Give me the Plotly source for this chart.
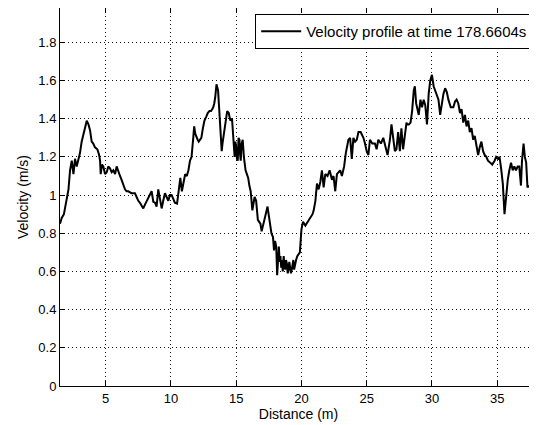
import plotly.graph_objects as go

distance = [
    1.50, 1.63, 1.80, 2.02, 2.15, 2.27, 2.40, 2.53, 2.65, 2.78, 2.90, 3.03, 3.16, 3.27, 3.37, 3.47, 3.55, 3.68, 3.80, 3.93,
    4.05, 4.18, 4.36, 4.50, 4.57, 4.62, 4.72, 4.82, 4.95, 5.08, 5.20, 5.33, 5.46, 5.59, 5.72, 5.84, 5.97, 6.10, 6.22, 6.35,
    6.48, 6.60, 6.73, 6.98, 7.24, 7.37, 7.50, 7.63, 7.76, 7.88, 8.01, 8.14, 8.27, 8.40, 8.52, 8.65, 8.78, 8.90, 9.03, 9.16,
    9.29, 9.41, 9.54, 9.67, 9.80, 9.92, 10.05, 10.18, 10.30, 10.47, 10.60, 10.72, 10.84, 10.97, 11.09, 11.22, 11.34, 11.46,
    11.58, 11.71, 11.78, 11.87, 11.96, 12.05, 12.13, 12.23, 12.33, 12.45, 12.57, 12.70, 12.82, 12.95, 13.07, 13.16, 13.24,
    13.32, 13.39, 13.49, 13.61, 13.69, 13.75, 13.81, 13.89, 13.95, 14.01, 14.10, 14.18, 14.25, 14.31, 14.43, 14.55, 14.68,
    14.74, 14.80, 14.88, 14.94, 15.00, 15.06, 15.12, 15.18, 15.25, 15.30, 15.35, 15.42, 15.50, 15.59, 15.65, 15.72, 15.82,
    15.92, 16.01, 16.11, 16.24, 16.32, 16.41, 16.53, 16.60, 16.66, 16.76, 16.86, 16.95, 17.03, 17.12, 17.20, 17.30, 17.40,
    17.48, 17.57, 17.70, 17.82, 17.90, 17.98, 18.07, 18.14, 18.20, 18.27, 18.33, 18.39, 18.45, 18.51, 18.57, 18.64, 18.70,
    18.76, 18.82, 18.89, 18.95, 19.01, 19.07, 19.13, 19.20, 19.26, 19.32, 19.38, 19.44, 19.50, 19.59, 19.68, 19.78, 19.88,
    20.00, 20.12, 20.30, 20.50, 20.70, 20.85, 20.94, 21.07, 21.19, 21.32, 21.45, 21.57, 21.70, 21.83, 22.00, 22.16, 22.34,
    22.46, 22.59, 22.72, 22.85, 22.97, 23.10, 23.27, 23.40, 23.50, 23.60, 23.73, 23.86, 23.98, 24.11, 24.24, 24.37, 24.54,
    24.75, 24.87, 25.00, 25.13, 25.25, 25.43, 25.63, 25.76, 25.89, 26.09, 26.27, 26.45, 26.60, 26.78, 26.90, 27.03, 27.16,
    27.28, 27.41, 27.54, 27.66, 27.79, 27.92, 28.05, 28.10, 28.23, 28.36, 28.48, 28.61, 28.69, 28.79, 28.91, 28.99, 29.12,
    29.24, 29.37, 29.49, 29.62, 29.75, 29.87, 30.00, 30.13, 30.25, 30.38, 30.50, 30.63, 30.76, 30.88, 31.01, 31.14, 31.26,
    31.44, 31.64, 31.77, 31.89, 32.02, 32.15, 32.27, 32.40, 32.53, 32.65, 32.78, 32.90, 33.03, 33.16, 33.28, 33.41, 33.54,
    33.66, 33.79, 33.92, 34.04, 34.17, 34.29, 34.47, 34.62, 34.80, 34.92, 35.05, 35.18, 35.30, 35.43, 35.56, 35.68, 35.81,
    35.93, 36.06, 36.19, 36.31, 36.44, 36.57, 36.69, 36.82, 36.90, 37.02, 37.12, 37.22, 37.32, 37.45,
]

velocity = [
    0.85, 0.88, 0.90, 0.99, 1.03, 1.13, 1.18, 1.11, 1.19, 1.15, 1.18, 1.22, 1.28, 1.31, 1.34, 1.37, 1.39, 1.37, 1.34, 1.28,
    1.27, 1.25, 1.24, 1.21, 1.18, 1.11, 1.16, 1.15, 1.11, 1.12, 1.15, 1.14, 1.12, 1.13, 1.11, 1.15, 1.12, 1.10, 1.08, 1.05,
    1.03, 1.02, 1.02, 1.01, 1.01, 0.99, 0.97, 0.96, 0.94, 0.93, 0.95, 0.97, 0.99, 1.01, 1.02, 0.965, 0.96, 0.94, 1.03, 0.98,
    0.93, 0.97, 1.01, 0.99, 0.97, 1.00, 1.00, 0.98, 0.96, 0.955, 1.04, 1.09, 1.02, 1.08, 1.11, 1.10, 1.13, 1.18,
    1.20, 1.30, 1.36, 1.32, 1.30, 1.29, 1.28, 1.29, 1.30, 1.35, 1.39, 1.41, 1.43, 1.44, 1.44, 1.45, 1.46,
    1.48, 1.51, 1.58, 1.55, 1.46, 1.40, 1.32, 1.23, 1.27, 1.30, 1.33, 1.36, 1.41, 1.44, 1.43, 1.39, 1.40,
    1.35, 1.30, 1.20, 1.28, 1.25, 1.19, 1.18, 1.30, 1.29, 1.21, 1.18, 1.27, 1.29, 1.20, 1.16, 1.13, 1.11,
    1.09, 1.05, 1.02, 0.92, 0.97, 0.99, 0.97, 0.92, 0.87, 0.86, 0.85, 0.81, 0.83, 0.86, 0.88, 0.91, 0.94,
    0.90, 0.87, 0.80, 0.78, 0.71, 0.76, 0.73, 0.58, 0.69, 0.73, 0.65, 0.68, 0.62, 0.66, 0.60, 0.68, 0.63,
    0.61, 0.66, 0.64, 0.59, 0.61, 0.65, 0.62, 0.59, 0.61, 0.64, 0.66, 0.61, 0.64, 0.66, 0.68, 0.69, 0.70,
    0.82, 0.86, 0.84, 0.86, 0.88, 0.90, 0.92, 0.97, 1.06, 1.03, 1.07, 1.13, 1.04, 1.11, 1.10, 1.13, 1.08,
    1.10, 1.02, 1.11, 1.12, 1.13, 1.10, 1.15, 1.22, 1.26, 1.29, 1.30, 1.19, 1.30, 1.28, 1.29, 1.33, 1.33,
    1.30, 1.27, 1.23, 1.21, 1.29, 1.27, 1.27, 1.24, 1.29, 1.27, 1.30, 1.25, 1.21, 1.29, 1.37, 1.30, 1.23,
    1.24, 1.33, 1.23, 1.35, 1.24, 1.33, 1.38, 1.37, 1.37, 1.38, 1.44, 1.55, 1.57, 1.48, 1.44, 1.42, 1.50,
    1.46, 1.50, 1.47, 1.37, 1.53, 1.60, 1.63, 1.57, 1.55, 1.53, 1.50, 1.42, 1.48, 1.53, 1.56, 1.54, 1.50,
    1.46, 1.46, 1.49, 1.50, 1.48, 1.43, 1.45, 1.38, 1.42, 1.36, 1.39, 1.33, 1.35, 1.29, 1.31, 1.26, 1.21,
    1.25, 1.28, 1.23, 1.21, 1.20, 1.18, 1.17, 1.16, 1.18, 1.20, 1.19, 1.20, 1.14, 1.06, 0.90, 1.01, 1.08,
    1.13, 1.17, 1.13, 1.15, 1.13, 1.15, 1.15, 1.05, 1.18, 1.27, 1.20, 1.17, 1.04, 1.05,
]

x_ticks = [5, 10, 15, 20, 25, 30, 35]
y_ticks = [0, 0.2, 0.4, 0.6, 0.8, 1.0, 1.2, 1.4, 1.6, 1.8]
y_tick_labels = ["0", "0.2", "0.4", "0.6", "0.8", "1", "1.2", "1.4", "1.6", "1.8"]

FONT = "Liberation Sans"
GRID_DASH = "1px,3px"

fig = go.Figure()
fig.add_trace(go.Scatter(
    x=distance, y=velocity, mode="lines",
    name="Velocity profile at time 178.6604s",
    line=dict(color="black", width=2),
))

# The page body adds an 8 px offset, so the figure is sized/positioned to compensate.
fig.update_layout(
    width=529, height=417,
    margin=dict(l=52, r=0, t=0, b=39),
    paper_bgcolor="white", plot_bgcolor="white",
    font=dict(family=FONT, size=13, color="black"),
    showlegend=True,
    legend=dict(
        x=0.992, xanchor="right", y=0.984, yanchor="top",
        bgcolor="white", bordercolor="black", borderwidth=1,
        font=dict(family=FONT, size=15, color="black"),
        itemwidth=40, tracegroupgap=0,
    ),
    xaxis=dict(
        range=[1.5, 38.05], tickmode="array", tickvals=x_ticks,
        ticks="inside", ticklen=5, tickcolor="black",
        showline=True, linecolor="black", linewidth=1, mirror="ticks",
        showgrid=True, gridcolor="#111111", griddash=GRID_DASH, gridwidth=1,
        zeroline=False,
        title=dict(text="Distance (m)", standoff=1, font=dict(size=14)),
        tickfont=dict(size=13),
    ),
    yaxis=dict(
        range=[0, 1.98], tickmode="array", tickvals=y_ticks, ticktext=y_tick_labels,
        ticks="inside", ticklen=5, tickcolor="black",
        showline=True, linecolor="black", linewidth=1, mirror=False,
        showgrid=True, gridcolor="#111111", griddash=GRID_DASH, gridwidth=1,
        zeroline=False,
        title=dict(text="Velocity (m/s)", standoff=6, font=dict(size=14)),
        tickfont=dict(size=13),
    ),
)

fig.write_html("out.html")
